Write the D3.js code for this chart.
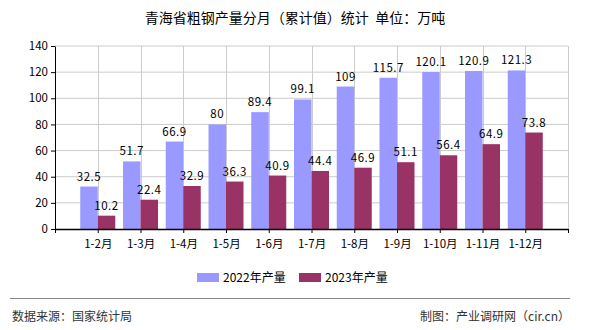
<!DOCTYPE html>
<html><head><meta charset="utf-8">
<script src="https://cdn.jsdelivr.net/npm/d3@7"></script>
<style>body{margin:0;background:#fff}svg{display:block}</style>
</head><body><svg id="c" width="590" height="330"></svg>
<script>
const categories = ["1-2月","1-3月","1-4月","1-5月","1-6月","1-7月","1-8月","1-9月","1-10月","1-11月","1-12月"];
const values2022 = [32.5,51.7,66.9,80,89.4,99.1,109,115.7,120.1,120.9,121.3];
const values2023 = [10.2,22.4,32.9,36.3,40.9,44.4,46.9,51.1,56.4,64.9,73.8];
const seriesNames = ["2022年产量","2023年产量"];
const seriesColors = ["#9999ff","#993366"];
const yTicks = [0,20,40,60,80,100,120,140];

const svg = d3.select("#c");
const font = "'Noto Sans CJK SC','DejaVu Sans',sans-serif";
const L = 55, R = 568, T = 46, B = 229;

svg.append("text").attr("x",295).attr("y",23).attr("text-anchor","middle")
  .attr("font-family",font).attr("font-size",14).attr("fill","#000")
  .style("white-space","pre")
  .text("青海省粗钢产量分月（累计值）统计  单位：万吨");

const y = d3.scaleLinear().domain([0,140]).range([B,T]);
const x = d3.scaleLinear().domain([-1,categories.length]).range([L,R]);
const bw = 17.5;

// grid
const g = svg.append("g");
g.selectAll(".hg").data(yTicks.slice(1)).join("line")
  .attr("x1",L).attr("x2",R).attr("y1",d=>y(d)).attr("y2",d=>y(d))
  .attr("stroke","#cccccc").attr("stroke-width",1);
g.selectAll(".vg").data(d3.range(0,categories.length+1)).join("line")
  .attr("x1",d=>Math.round(x(d))+0.5).attr("x2",d=>Math.round(x(d))+0.5).attr("y1",T).attr("y2",B)
  .attr("stroke","#cccccc").attr("stroke-width",1);

// bars
const series = [values2022, values2023];
series.forEach((vals,si)=>{
  svg.append("g").selectAll("rect").data(vals).join("rect")
    .attr("x",(d,i)=>x(i) + (si===0 ? -bw : 0))
    .attr("y",d=>y(d)).attr("width",bw).attr("height",d=>B-y(d))
    .attr("fill",seriesColors[si]);
  svg.append("g").selectAll("text").data(vals).join("text")
    .attr("x",(d,i)=>x(i) + (si===0 ? -bw/2 : bw/2))
    .attr("y",d=>y(d)-6).attr("text-anchor","middle")
    .attr("font-family",font).attr("font-size",11.5).attr("fill","#000")
    .attr("letter-spacing",0.5)
    .text(d=>d);
});

// axes
const yAxis = d3.axisLeft(y).tickValues(yTicks).tickSize(4).tickSizeOuter(0);
const ya = svg.append("g").attr("transform",`translate(${L},0)`).call(yAxis);
ya.selectAll("text").attr("font-family",font).attr("font-size",11.5).attr("fill","#000");
ya.select(".domain").attr("stroke","#000");
ya.selectAll(".tick line").attr("stroke","#000");

const xAxis = d3.axisBottom(x).tickValues(d3.range(-1,categories.length+1)).tickSize(4).tickSizeOuter(0)
  .tickFormat(d=> (d>=0 && d<categories.length) ? categories[d] : "");
const xa = svg.append("g").attr("transform",`translate(0,${B})`).call(xAxis);
xa.selectAll("text").attr("font-family",font).attr("font-size",11.5).attr("fill","#000").attr("dy","1.0em");
xa.select(".domain").attr("stroke","#000").attr("stroke-width",1.5);
xa.selectAll(".tick line").attr("stroke","#000");

// legend
const lx = [197, 299];
seriesNames.forEach((n,i)=>{
  svg.append("rect").attr("x",lx[i]).attr("y",273).attr("width",22).attr("height",9).attr("fill",seriesColors[i]);
  svg.append("text").attr("x",lx[i]+26).attr("y",282).attr("font-family",font).attr("font-size",12).attr("fill","#000").text(n);
});

// footer
svg.append("line").attr("x1",10).attr("x2",570).attr("y1",298.5).attr("y2",298.5).attr("stroke","#888").attr("stroke-width",1);
svg.append("text").attr("x",12).attr("y",321).attr("font-family",font).attr("font-size",12).attr("fill","#333").text("数据来源：国家统计局");
svg.append("text").attr("x",570).attr("y",321).attr("text-anchor","end").attr("font-family",font).attr("font-size",12).attr("fill","#333").text("制图：产业调研网（cir.cn）");
</script></body></html>
